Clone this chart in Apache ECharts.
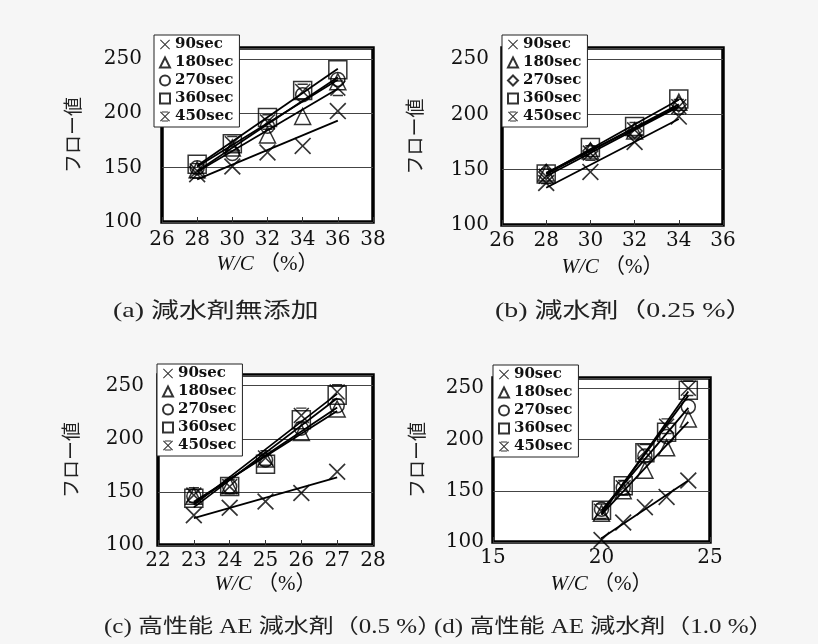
<!DOCTYPE html>
<html><head><meta charset="utf-8">
<script src="https://cdn.jsdelivr.net/npm/echarts@6/dist/echarts.min.js"></script>
<style>html,body{margin:0;padding:0;background:#f6f6f6;}#c{width:818px;height:644px;}</style>
</head><body><div id="c"></div>
<script>
// ---- data ----
const seriesNames = ['90sec', '180sec', '270sec', '360sec', '450sec'];

const xA = [28, 30, 32, 34, 36];
const a90 = [144, 151, 164, 170, 202];
const a180 = [148, 168, 180, 197, 229];
const a270 = [150, 163, 188, 217, 231];
const a360 = [153, 172, 196, 221, 240];
const a450 = [147, 172, 192, 220, 223];

const xB = [28, 30, 32, 34];
const b90 = [138, 148, 175, 198];
const b180 = [147, 167, 185, 211];
const b270 = [148, 167, 185, 209];
const b360 = [146, 170, 189, 214];
const b450 = [144, 165, 186, 207];

const xC = [23, 24, 25, 26, 27];
const c90 = [128, 135, 141, 149, 169];
const c180 = [146, 156, 181, 206, 228];
const c270 = [146, 155, 180, 210, 231];
const c360 = [144, 155, 176, 218, 241];
const c450 = [147, 155, 182, 222, 244];

const xD = [20, 21, 22, 23, 24];
const d90 = [102, 119, 134, 144, 160];
const d180 = [128, 150, 170, 192, 220];
const d270 = [132, 153, 184, 203, 232];
const d360 = [131, 155, 187, 207, 248];
const d450 = [130, 153, 188, 213, 250];

const xRangeA = [26, 38, 2];
const xRangeB = [26, 36, 2];
const xRangeC = [22, 28, 1];
const xRangeD = [15, 25, 5];
const yRange = [100, 260, 50];

const captions = ['(a) 減水剤無添加', '(b) 減水剤（0.25 %）', '(c) 高性能 AE 減水剤（0.5 %）', '(d) 高性能 AE 減水剤（1.0 %）'];
const xTitle = '{i|W/C} （%）';
const yTitle = 'フロー値';

// ---- build ----
const panels = [
  {x: xA, ys: [a90, a180, a270, a360, a450], xr: xRangeA, grid: {left: 162, top: 48, width: 211, height: 174}, lm: 20, xm: 8, xng: 32, yng: 80, leg: [154, 35], cap: [113, 311, 21, 1.33], circ: 'circle'},
  {x: xB, ys: [b90, b180, b270, b360, b450], xr: xRangeB, grid: {left: 502, top: 48, width: 221, height: 177}, lm: 13, xm: 6, xng: 32, yng: 78, leg: [502, 35], cap: [495, 311, 21, 1.33], circ: 'diamond'},
  {x: xC, ys: [c90, c180, c270, c360, c450], xr: xRangeC, grid: {left: 158, top: 375, width: 215, height: 170}, lm: 14, xm: 6, xng: 29, yng: 78, leg: [157, 364], cap: [104, 628, 20, 1.25], circ: 'circle'},
  {x: xD, ys: [d90, d180, d270, d360, d450], xr: xRangeD, grid: {left: 493, top: 378, width: 217, height: 164}, lm: 9, xm: 6, xng: 32, yng: 67, leg: [493, 365], cap: [434, 628, 20, 1.25], circ: 'circle'}
];

const X_SHAPE = 'M0,7L7,0L50,43L93,0L100,7L57,50L100,93L93,100L50,57L7,100L0,93L43,50Z';
const X_PATH = 'path://' + X_SHAPE;
const STAR_PATH = 'path://' + X_SHAPE + 'M18,0L82,0L82,9L18,9Z M18,91L82,91L82,100L18,100Z';
const hollow = {color: 'rgba(255,255,255,0)', borderColor: '#000', borderWidth: 1.5};
const solid = {color: '#000'};

function fitLine(xs, ys) {
  const n = xs.length;
  let sx = 0, sy = 0, sxx = 0, sxy = 0;
  for (let i = 0; i < n; i++) { sx += xs[i]; sy += ys[i]; sxx += xs[i] * xs[i]; sxy += xs[i] * ys[i]; }
  const b = (n * sxy - sx * sy) / (n * sxx - sx * sx);
  const a = (sy - b * sx) / n;
  const x0 = xs[0], x1 = xs[n - 1];
  return [[x0, a + b * x0], [x1, a + b * x1]];
}

const grids = [], xAxes = [], yAxes = [], series = [], legends = [], graphics = [];
const serifFont = 'DejaVu Serif';

panels.forEach((p, pi) => {
  grids.push(Object.assign({show: true, borderColor: '#000', borderWidth: 3.5, backgroundColor: '#fff'}, p.grid));
  xAxes.push({
    type: 'value', gridIndex: pi, min: p.xr[0], max: p.xr[1], interval: p.xr[2],
    axisLine: {show: false}, splitLine: {show: false},
    axisTick: {show: true, inside: true, length: 5, lineStyle: {color: '#333', width: 1}},
    axisLabel: {fontFamily: serifFont, fontSize: 20, color: '#111', margin: p.xm},
    name: xTitle, nameLocation: 'middle', nameGap: p.xng,
    nameTextStyle: {fontFamily: "'Liberation Serif','Noto Sans CJK JP'", fontSize: 21, color: '#111',
      rich: {i: {fontFamily: 'Liberation Serif', fontStyle: 'italic', fontSize: 21, color: '#111'}}}
  });
  yAxes.push({
    type: 'value', gridIndex: pi, min: yRange[0], max: yRange[1], interval: yRange[2],
    axisLine: {show: false}, axisTick: {show: false},
    splitLine: {show: true, lineStyle: {color: '#444', width: 1}},
    axisLabel: {fontFamily: serifFont, fontSize: 20, color: '#111', margin: p.lm, showMaxLabel: false},
    name: yTitle, nameLocation: 'middle', nameGap: p.yng, nameRotate: 90,
    nameTextStyle: {fontFamily: 'Noto Sans CJK JP', fontSize: 19, color: '#222'}
  });
  const symbols = [X_PATH, 'triangle', p.circ, 'rect', STAR_PATH];
  const sizes = [17, 16, p.circ === 'diamond' ? 15 : 14, 18, 16];
  const styles = [solid, hollow, hollow, hollow, solid];
  p.ys.forEach((ys, k) => {
    series.push({
      type: 'line', xAxisIndex: pi, yAxisIndex: pi, name: 'fit' + pi + k,
      data: fitLine(p.x, ys), symbol: 'none', silent: true, z: 2,
      lineStyle: {color: '#000', width: 1.8}
    });
    series.push({
      type: 'scatter', xAxisIndex: pi, yAxisIndex: pi, name: seriesNames[k],
      data: p.x.map((x, i) => [x, ys[i]]), symbol: symbols[k], symbolSize: sizes[k],
      itemStyle: styles[k], z: 3
    });
  });
  legends.push({
    left: p.leg[0], top: p.leg[1], orient: 'vertical', z: 10,
    itemWidth: 10, itemHeight: 10, itemGap: 3, padding: [2, 6, 3, 5],
    backgroundColor: '#fff', borderColor: '#222', borderWidth: 1,
    selectedMode: false,
    textStyle: {fontFamily: serifFont, fontWeight: 'bold', fontSize: 15, color: '#111', lineHeight: 15},
    data: seriesNames.map((n, k) => (k === 2 && p.circ === 'diamond') ? {name: n, icon: 'diamond'} : n)
  });
  graphics.push({
    type: 'text', x: p.cap[0], y: p.cap[1], scaleX: p.cap[3],
    style: {text: captions[pi], x: 0, y: 0, verticalAlign: 'middle', fill: '#222',
      fontSize: p.cap[2], fontFamily: "'Liberation Serif','Noto Sans CJK JP'"}
  });
});

const chart = echarts.init(document.getElementById('c'), null, {renderer: 'canvas'});
chart.setOption({
  backgroundColor: '#f6f6f6',
  animation: false,
  grid: grids, xAxis: xAxes, yAxis: yAxes, series: series, legend: legends, graphic: graphics
});
</script>
</body></html>
